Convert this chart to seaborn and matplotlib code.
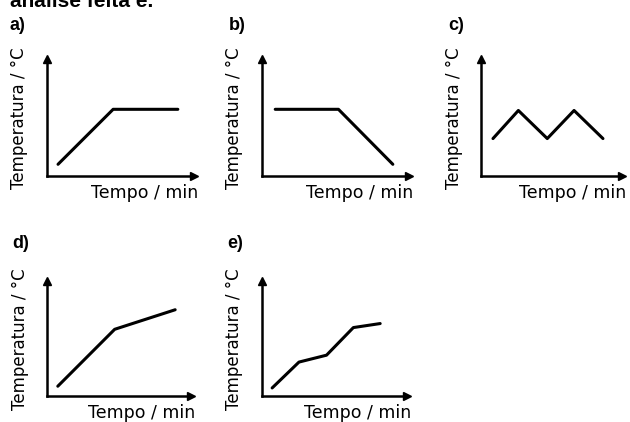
import numpy as np
import pandas as pd
import seaborn as sns
import matplotlib.pyplot as plt

sns.set_style("white")
plt.rcParams['font.family'] = ['DejaVu Sans']
plt.rcParams['text.color'] = 'black'
plt.rcParams['axes.labelcolor'] = 'black'

# curves (arbitrary units, axis goes 0..10 on both directions)
a_x = [0.75, 4.5, 8.9]
a_y = [1.0, 5.7, 5.7]
b_x = [0.9, 5.2, 8.9]
b_y = [5.7, 5.7, 1.0]
c_x = [0.85, 2.65, 4.7, 6.6, 8.65]
c_y = [3.2, 5.6, 3.2, 5.6, 3.2]
d_x = [0.75, 4.7, 8.9]
d_y = [0.85, 5.8, 7.5]
e_x = [0.7, 2.55, 4.45, 6.3, 8.15]
e_y = [0.7, 2.95, 3.55, 5.95, 6.3]

panel_names = ["a)", "b)", "c)", "d)", "e)"]
xlabel = "Tempo / min"
ylabel = "Temperatura / °C"

W, H = 630, 422
fig = plt.figure(figsize=(W / 100, H / 100), dpi=100)

# axes boxes in pixels: left, right, top, bottom
boxes = [(47, 194, 59, 176), (262, 409, 59, 176), (481, 622, 59, 176),
         (47, 191, 281, 396), (262, 407, 281, 396)]
label_pos = [(10, 17), (229, 17), (448, 17), (12, 235), (227, 235)]
curves = [(a_x, a_y), (b_x, b_y), (c_x, c_y), (d_x, d_y), (e_x, e_y)]

# heading of the page, cut off at the top like in the source
fig.text(10 / W, 1 - 7 / H, "análise feita e.", fontsize=15, fontweight='bold',
         va='baseline', family='Liberation Sans')

for name, (l, r, t, b), (lx, ly), (cx, cy) in zip(panel_names, boxes, label_pos, curves):
    ax = fig.add_axes([l / W, 1 - b / H, (r - l) / W, (b - t) / H])
    sns.lineplot(x=cx, y=cy, ax=ax, color='black', linewidth=2.2, sort=False)
    ax.set_xlim(0, 10)
    ax.set_ylim(0, 10)
    ax.set_xticks([])
    ax.set_yticks([])
    for s in ['top', 'right']:
        ax.spines[s].set_visible(False)
    for s in ['left', 'bottom']:
        ax.spines[s].set_linewidth(1.8)
        ax.spines[s].set_color('black')
    # arrow heads
    ax.plot(1, 0, ">k", transform=ax.transAxes, clip_on=False, markersize=6)
    ax.plot(0, 1, "^k", transform=ax.transAxes, clip_on=False, markersize=6)
    ax.set_xlabel(xlabel, loc='right', fontsize=12.5)
    ax.xaxis.set_label_coords(1 + 4 / (r - l), -0.07)
    ax.set_ylabel(ylabel, fontsize=12)
    ax.yaxis.set_label_coords(-0.128, 0.49)
    fig.text(lx / W, 1 - ly / H, name, fontsize=13, fontweight='bold',
             va='top', family='Liberation Sans')

fig.savefig("out.png", dpi=100, facecolor='white')
